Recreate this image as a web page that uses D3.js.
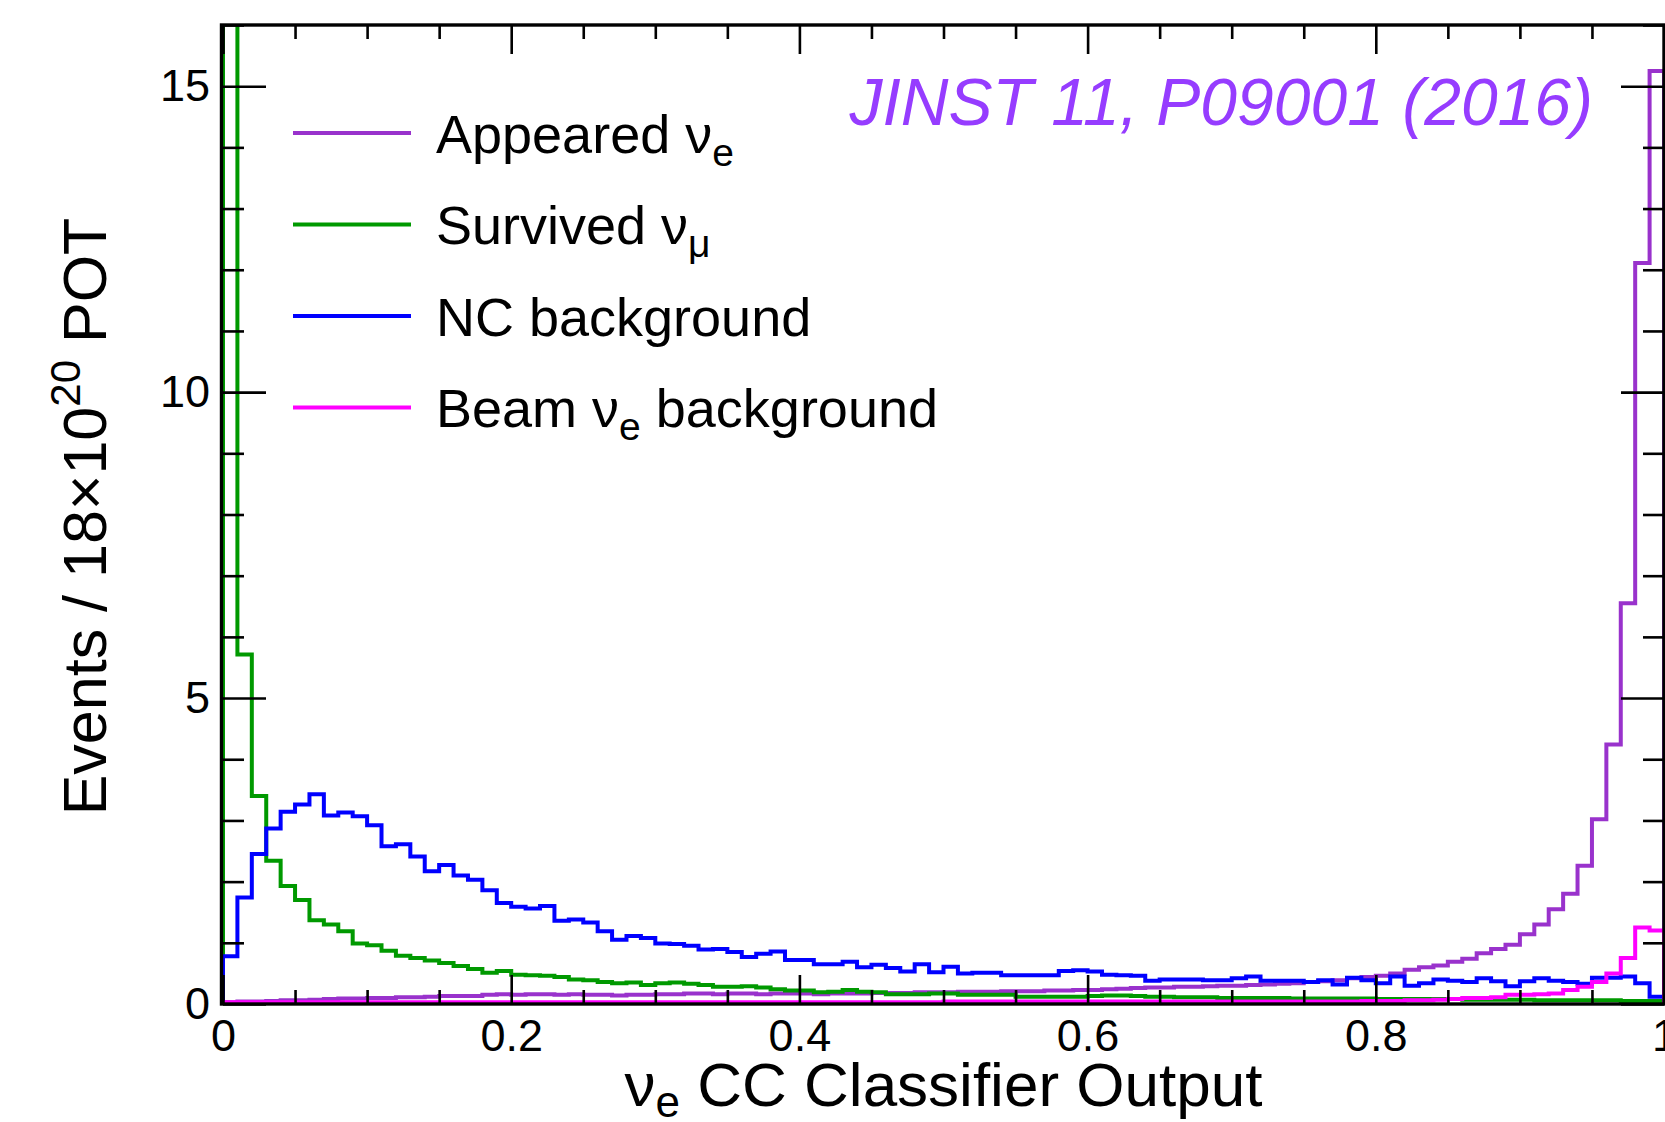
<!DOCTYPE html>
<html>
<head>
<meta charset="utf-8">
<script src="https://cdn.jsdelivr.net/npm/d3@7"></script>
<style>
  html, body { margin: 0; padding: 0; background: #ffffff; }
  svg { display: block; }
  text { font-family: "Liberation Sans", Arial, Helvetica, sans-serif; }
</style>
</head>
<body>
<div id="chart"></div>
<script>
// ---------------- DATA ----------------
const binWidth = 0.01;            // 100 bins on [0, 1]
const xTickValues = [0, 0.2, 0.4, 0.6, 0.8, 1];
const xTickLabels = ["0", "0.2", "0.4", "0.6", "0.8", "1"];
const yTickValues = [0, 5, 10, 15];
const yTickLabels = ["0", "5", "10", "15"];

const seriesNames = ["Appeared", "Survived", "NC background", "Beam"];

// Appeared nu_e (purple)
const appearedNuE = [
  0.03,0.04,0.04,0.05,0.06,0.06,0.07,0.08,0.09,0.09,
  0.10,0.10,0.11,0.11,0.12,0.13,0.13,0.13,0.15,0.16,
  0.15,0.16,0.16,0.15,0.16,0.15,0.15,0.14,0.15,0.15,
  0.16,0.16,0.17,0.17,0.16,0.17,0.17,0.16,0.17,0.17,
  0.17,0.16,0.17,0.17,0.17,0.18,0.18,0.18,0.19,0.19,
  0.19,0.20,0.20,0.20,0.21,0.21,0.21,0.22,0.22,0.23,
  0.23,0.24,0.25,0.26,0.27,0.27,0.28,0.28,0.29,0.30,
  0.30,0.31,0.32,0.33,0.34,0.36,0.37,0.39,0.42,0.44,
  0.46,0.50,0.56,0.60,0.63,0.69,0.74,0.83,0.90,0.97,
  1.14,1.30,1.55,1.80,2.26,3.02,4.24,6.55,12.11,15.25
];

// Survived nu_mu (green) -- first bin is off scale
const survivedNuMu = [
  25.0,5.71,3.40,2.34,1.93,1.70,1.37,1.30,1.19,0.99,
  0.96,0.87,0.79,0.75,0.71,0.67,0.62,0.57,0.51,0.54,
  0.48,0.47,0.46,0.44,0.40,0.39,0.36,0.34,0.35,0.31,
  0.34,0.35,0.33,0.31,0.28,0.28,0.29,0.27,0.24,0.22,
  0.22,0.19,0.20,0.23,0.20,0.19,0.16,0.16,0.16,0.17,
  0.17,0.15,0.15,0.15,0.15,0.12,0.12,0.12,0.12,0.12,
  0.13,0.14,0.14,0.13,0.12,0.12,0.11,0.11,0.11,0.10,
  0.10,0.10,0.10,0.10,0.09,0.09,0.09,0.09,0.09,0.09,
  0.08,0.08,0.08,0.08,0.08,0.08,0.07,0.07,0.07,0.07,
  0.07,0.06,0.06,0.06,0.06,0.06,0.06,0.05,0.05,0.05
];

// NC background (blue)
const ncBackground = [
  0.78,1.74,2.45,2.87,3.14,3.26,3.43,3.08,3.13,3.07,
  2.92,2.58,2.61,2.41,2.17,2.27,2.10,2.03,1.86,1.65,
  1.59,1.56,1.60,1.36,1.38,1.33,1.19,1.05,1.11,1.08,
  0.99,0.98,0.95,0.89,0.90,0.85,0.77,0.82,0.86,0.72,
  0.72,0.65,0.65,0.69,0.60,0.64,0.59,0.53,0.65,0.52,
  0.61,0.50,0.51,0.51,0.47,0.47,0.47,0.47,0.54,0.55,
  0.53,0.48,0.47,0.46,0.38,0.40,0.40,0.40,0.39,0.39,
  0.42,0.45,0.38,0.38,0.38,0.36,0.39,0.32,0.43,0.39,
  0.34,0.45,0.30,0.34,0.40,0.38,0.36,0.42,0.37,0.29,
  0.37,0.42,0.38,0.36,0.33,0.43,0.43,0.45,0.34,0.12
];

// Beam nu_e background (magenta)
const beamNuE = [
  0.03,0.03,0.03,0.03,0.03,0.03,0.03,0.03,0.03,0.03,
  0.03,0.03,0.03,0.03,0.03,0.03,0.03,0.03,0.03,0.03,
  0.03,0.03,0.03,0.03,0.03,0.03,0.03,0.03,0.03,0.03,
  0.03,0.03,0.03,0.03,0.03,0.03,0.03,0.03,0.03,0.03,
  0.03,0.03,0.03,0.03,0.03,0.03,0.03,0.03,0.03,0.03,
  0.04,0.04,0.04,0.04,0.04,0.04,0.04,0.04,0.04,0.04,
  0.04,0.04,0.04,0.04,0.04,0.04,0.04,0.04,0.04,0.04,
  0.04,0.04,0.04,0.04,0.04,0.04,0.04,0.04,0.04,0.05,
  0.05,0.05,0.06,0.06,0.07,0.08,0.10,0.10,0.11,0.15,
  0.15,0.16,0.17,0.23,0.28,0.36,0.50,0.75,1.25,1.20
];

const legendLabels = [
  { main: "Appeared \u03BD", sub: "e", rest: "" },
  { main: "Survived \u03BD", sub: "\u03BC", rest: "" },
  { main: "NC background", sub: "", rest: "" },
  { main: "Beam \u03BD", sub: "e", rest: " background" }
];
const seriesColors = ["#9932cc", "#009900", "#0000ff", "#ff00ff"];
const stamp = "JINST 11, P09001 (2016)";

// ---------------- LAYOUT ----------------
const W = 1665, H = 1122;
const plot = { left: 223, right: 1664, top: 25, bottom: 1004 };

const svg = d3.select("#chart").append("svg")
  .attr("width", W).attr("height", H)
  .attr("viewBox", `0 0 ${W} ${H}`);

const x = d3.scaleLinear().domain([0, 1]).range([plot.left, plot.right]);
const y = d3.scaleLinear().domain([0, 16]).range([plot.bottom, plot.top]);

svg.append("defs").append("clipPath").attr("id", "plotclip")
  .append("rect")
  .attr("x", plot.left - 2).attr("y", plot.top)
  .attr("width", plot.right - plot.left + 4).attr("height", plot.bottom - plot.top);

// ---------------- HISTOGRAMS ----------------
const allSeries = [appearedNuE, survivedNuMu, ncBackground, beamNuE];
const stepLine = d3.line()
  .x(d => x(d[0])).y(d => y(d[1]))
  .curve(d3.curveStepAfter);

function histPoints(vals) {
  const pts = [[0, 0]];
  vals.forEach((v, i) => pts.push([i * binWidth, v]));
  pts.push([1, vals[vals.length - 1]]);
  pts.push([1, 0]);
  return pts;
}

const gHist = svg.append("g").attr("clip-path", "url(#plotclip)");
allSeries.forEach((vals, k) => {
  gHist.append("path")
    .attr("d", stepLine(histPoints(vals)))
    .attr("fill", "none")
    .attr("stroke", seriesColors[k])
    .attr("stroke-width", 4)
    .attr("stroke-linejoin", "miter");
});

// ---------------- AXES ----------------
const xMinor = d3.range(0, 1.0001, 0.05).filter(v => Math.abs(v * 5 - Math.round(v * 5)) > 1e-6);
const yMinor = d3.range(0, 16.001, 1).filter(v => v % 5 !== 0);

function styleAxis(g) {
  g.select(".domain").remove();
  g.selectAll(".tick line").attr("stroke", "#000").attr("stroke-width", 2.6);
  g.selectAll(".tick text")
    .attr("fill", "#000")
    .style("font-family", '"Liberation Sans", Arial, Helvetica, sans-serif')
    .style("font-size", "45px");
}

// bottom
svg.append("g").attr("transform", `translate(0,${plot.bottom})`)
  .call(d3.axisBottom(x).tickValues(xTickValues)
    .tickFormat((d, i) => xTickLabels[i]).tickSizeInner(-29).tickSizeOuter(0).tickPadding(15))
  .call(styleAxis);
svg.append("g").attr("transform", `translate(0,${plot.bottom})`)
  .call(d3.axisBottom(x).tickValues(xMinor).tickFormat("").tickSizeInner(-14).tickSizeOuter(0))
  .call(styleAxis);
// top
svg.append("g").attr("transform", `translate(0,${plot.top})`)
  .call(d3.axisTop(x).tickValues(xTickValues).tickFormat("").tickSizeInner(-29).tickSizeOuter(0))
  .call(styleAxis);
svg.append("g").attr("transform", `translate(0,${plot.top})`)
  .call(d3.axisTop(x).tickValues(xMinor).tickFormat("").tickSizeInner(-14).tickSizeOuter(0))
  .call(styleAxis);
// left
svg.append("g").attr("transform", `translate(${plot.left},0)`)
  .call(d3.axisLeft(y).tickValues(yTickValues)
    .tickFormat((d, i) => yTickLabels[i]).tickSizeInner(-43).tickSizeOuter(0).tickPadding(13))
  .call(styleAxis);
svg.append("g").attr("transform", `translate(${plot.left},0)`)
  .call(d3.axisLeft(y).tickValues(yMinor).tickFormat("").tickSizeInner(-21).tickSizeOuter(0))
  .call(styleAxis);
// right
svg.append("g").attr("transform", `translate(${plot.right},0)`)
  .call(d3.axisRight(y).tickValues(yTickValues).tickFormat("").tickSizeInner(-43).tickSizeOuter(0))
  .call(styleAxis);
svg.append("g").attr("transform", `translate(${plot.right},0)`)
  .call(d3.axisRight(y).tickValues(yMinor).tickFormat("").tickSizeInner(-21).tickSizeOuter(0))
  .call(styleAxis);

// frame
svg.append("rect")
  .attr("x", plot.left - 1.5).attr("y", plot.top)
  .attr("width", plot.right - plot.left + 1.5).attr("height", plot.bottom - plot.top)
  .attr("fill", "none").attr("stroke", "#000").attr("stroke-width", 3.4);

// ---------------- AXIS TITLES ----------------
const xTitle = svg.append("text")
  .attr("x", (plot.left + plot.right) / 2).attr("y", 1106)
  .attr("text-anchor", "middle")
  .style("font-size", "62px").attr("fill", "#000");
xTitle.append("tspan").text("\u03BD");
xTitle.append("tspan").text("e").style("font-size", "44px").attr("dy", 11);
xTitle.append("tspan").text(" CC Classifier Output").attr("dy", -11);

const yTitle = svg.append("text")
  .attr("transform", `translate(106,${(plot.top + plot.bottom) / 2 + 2}) rotate(-90)`)
  .attr("text-anchor", "middle")
  .style("font-size", "61px").attr("fill", "#000");
yTitle.append("tspan").text("Events / 18\u00D710");
yTitle.append("tspan").text("20").style("font-size", "42px").attr("dy", -26);
yTitle.append("tspan").text(" POT").attr("dy", 26);

// ---------------- LEGEND ----------------
const legendTop = 133, legendStep = 91.5;
const leg = svg.append("g");
legendLabels.forEach((lab, i) => {
  const ly = legendTop + i * legendStep;
  leg.append("line")
    .attr("x1", 293).attr("x2", 411).attr("y1", ly).attr("y2", ly)
    .attr("stroke", seriesColors[i]).attr("stroke-width", 4);
  const t = leg.append("text")
    .attr("x", 436).attr("y", ly + 19.5)
    .style("font-size", "54px").attr("fill", "#000");
  t.append("tspan").text(lab.main);
  if (lab.sub) {
    t.append("tspan").text(lab.sub).style("font-size", "39px").attr("dy", 13);
    if (lab.rest) t.append("tspan").text(lab.rest).attr("dy", -13);
  }
});

// ---------------- STAMP ----------------
svg.append("text")
  .attr("x", 1593).attr("y", 125)
  .attr("text-anchor", "end")
  .style("font-size", "66px").style("font-style", "italic")
  .attr("fill", "#963cff")
  .text(stamp);
</script>
</body>
</html>
